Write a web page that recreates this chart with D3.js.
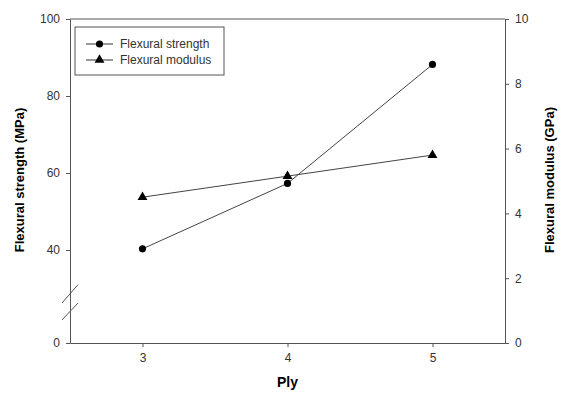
<!DOCTYPE html>
<html>
<head>
<meta charset="utf-8">
<script src="https://cdn.jsdelivr.net/npm/d3@7"></script>
<style>
  body { margin: 0; background: #fff; }
  text { font-family: Arial, "Liberation Sans", sans-serif; }
</style>
</head>
<body>
<script>
// data
const plies = [3, 4, 5];
const strength = [40.3, 57.3, 88.2];   // MPa, left axis
const modulus = [4.5, 5.15, 5.8];      // GPa, right axis
const leftTicks = [0, 40, 60, 80, 100];
const rightTicks = [0, 2, 4, 6, 8, 10];

const width = 561, height = 395;
const margin = { top: 19, right: 56, bottom: 52, left: 70 };

const svg = d3.select("body").append("svg")
    .attr("width", width)
    .attr("height", height);

const x = d3.scaleLinear()
    .domain([2.5, 5.5])
    .range([margin.left, width - margin.right]);

// left axis has a break between 0 and 30
const yL = d3.scaleLinear()
    .domain([0, 30, 100])
    .range([height - margin.bottom, 288.5, margin.top]);

const yR = d3.scaleLinear()
    .domain([0, 10])
    .range([height - margin.bottom, margin.top]);

const axisColor = "#555";
const x0 = margin.left, x1 = width - margin.right;
const yb = height - margin.bottom, yt = margin.top;

// top frame line
svg.append("line")
    .attr("x1", x0).attr("x2", x1)
    .attr("y1", yt).attr("y2", yt)
    .attr("stroke", axisColor);

function styleAxis(g) {
  g.select(".domain").attr("stroke", axisColor);
  g.selectAll(".tick line").attr("stroke", axisColor);
  g.selectAll(".tick text").attr("fill", "#333").style("font-size", "12px");
}

svg.append("g")
    .attr("transform", `translate(0,${yb})`)
    .call(d3.axisBottom(x).tickValues(plies).tickFormat(d3.format("d"))
      .tickSize(4).tickSizeOuter(0).tickPadding(6))
    .call(styleAxis);

svg.append("g")
    .attr("transform", `translate(${x0},0)`)
    .call(d3.axisLeft(yL).tickValues(leftTicks).tickSize(4).tickSizeOuter(0).tickPadding(6))
    .call(styleAxis);

svg.append("g")
    .attr("transform", `translate(${x1},0)`)
    .call(d3.axisRight(yR).tickValues(rightTicks).tickSize(4).tickSizeOuter(0).tickPadding(6))
    .call(styleAxis);

// axis break marks (two parallel slashes)
[[22, 31], [12.7, 22]].forEach(([lo, hi]) => {
  svg.append("line")
      .attr("x1", x0 - 8).attr("y1", yL(lo))
      .attr("x2", x0 + 8).attr("y2", yL(hi))
      .attr("stroke", axisColor);
});

// lines
const lineL = d3.line().x((d, i) => x(plies[i])).y(d => yL(d));
const lineR = d3.line().x((d, i) => x(plies[i])).y(d => yR(d));

svg.append("path")
    .attr("d", lineL(strength))
    .attr("fill", "none").attr("stroke", "#444").attr("stroke-width", 1);

svg.append("path")
    .attr("d", lineR(modulus))
    .attr("fill", "none").attr("stroke", "#444").attr("stroke-width", 1);

const circle = d3.symbol().type(d3.symbolCircle).size(40);
const tri = d3.symbol().type(d3.symbolTriangle).size(42);

svg.selectAll(".pt-s")
    .data(strength)
    .join("path")
    .attr("transform", (d, i) => `translate(${x(plies[i])},${yL(d)})`)
    .attr("d", circle)
    .attr("fill", "#000");

svg.selectAll(".pt-m")
    .data(modulus)
    .join("path")
    .attr("transform", (d, i) => `translate(${x(plies[i])},${yR(d)})`)
    .attr("d", tri)
    .attr("fill", "#000");

// legend
const legend = svg.append("g");
legend.append("rect")
    .attr("x", 75).attr("y", 27)
    .attr("width", 149).attr("height", 48)
    .attr("fill", "#fff").attr("stroke", "#555");

const entries = [["Flexural strength", circle], ["Flexural modulus", tri]];
entries.forEach(([label, sym], i) => {
  const ly = 44 + i * 16;
  legend.append("line")
      .attr("x1", 86).attr("x2", 113)
      .attr("y1", ly).attr("y2", ly)
      .attr("stroke", "#333");
  legend.append("path")
      .attr("transform", `translate(99.5,${ly})`)
      .attr("d", sym)
      .attr("fill", "#000");
  legend.append("text")
      .attr("x", 120).attr("y", ly + 4)
      .attr("fill", "#333")
      .style("font-size", "12px")
      .text(label);
});

// titles
svg.append("text")
    .attr("transform", `translate(24,180) rotate(-90)`)
    .attr("text-anchor", "middle")
    .style("font-size", "13px").style("font-weight", "bold")
    .text("Flexural strength (MPa)");

svg.append("text")
    .attr("transform", `translate(554,180) rotate(-90)`)
    .attr("text-anchor", "middle")
    .style("font-size", "13px").style("font-weight", "bold")
    .text("Flexural modulus (GPa)");

svg.append("text")
    .attr("x", x(4)).attr("y", 387)
    .attr("text-anchor", "middle")
    .style("font-size", "14px").style("font-weight", "bold")
    .text("Ply");
</script>
</body>
</html>
